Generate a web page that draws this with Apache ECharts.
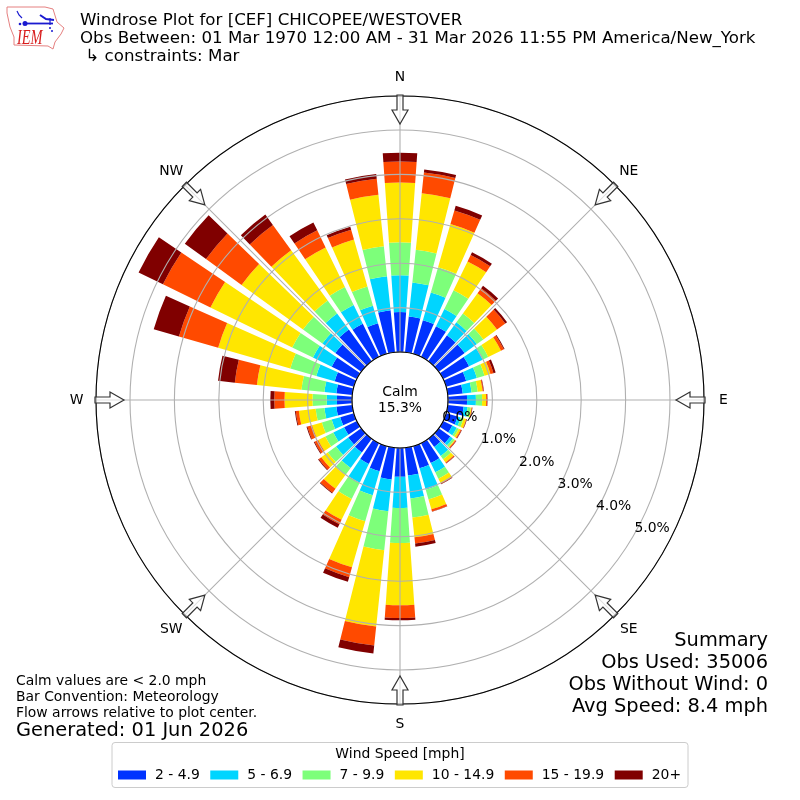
<!DOCTYPE html>
<html><head><meta charset="utf-8">
<style>html,body{margin:0;padding:0;background:#fff}#c{width:800px;height:800px}</style>
<script src="https://cdn.jsdelivr.net/npm/echarts@6/dist/echarts.min.js"></script>
</head><body><div id="c"></div>
<script>
const directions = Array.from({length:36},(_, i)=>String(i*10));
const speed2 = [.90,.81,.79,.77,.72,.72,.65,.47,.34,.43,.36,.27,.23,.32,.23,.50,.52,.63,.65,.72,.59,.52,.38,.36,.32,.32,.36,.34,.36,.45,.63,.72,.88,.83,.72,.95];
const speed5 = [.83,.77,.65,.43,.36,.34,.34,.25,.20,.20,.09,.07,.11,.07,.25,.23,.50,.52,.70,.72,.56,.47,.43,.34,.27,.20,.27,.23,.27,.43,.47,.36,.45,.47,.41,.77];
const speed7 = [.74,.74,.59,.47,.25,.18,.14,.18,.14,.14,.07,.07,.05,.05,.09,.16,.23,.43,.79,.88,.61,.41,.20,.23,.20,.23,.20,.32,.52,.61,.52,.54,.36,.45,.45,.68];
const speed10 = [1.35,1.28,1.01,.72,.56,.38,.32,.14,.11,.09,.02,.06,.05,.02,.09,.11,.23,.45,1.40,1.73,1.08,.52,.38,.18,.18,.23,.38,.63,1.01,1.69,2.05,1.71,1.40,.99,1.10,1.17];
const speed15 = [.47,.47,.32,.16,.14,.23,.07,.07,.02,.02,.01,.01,.02,.02,.02,.02,.05,.14,.29,.43,.23,.11,.11,.07,.09,.11,.07,.23,.50,.92,1.19,.99,.70,.43,.23,.36];
const speed20 = [.20,.07,.11,.07,.07,.05,.02,.05,.01,.01,.01,.01,.01,.01,.01,.01,.01,.07,.05,.18,.11,.09,.02,.02,.02,.02,.02,.09,.38,.59,.61,.59,.29,.20,.07,.11];
const speedNames = ['2 - 4.9','5 - 6.9','7 - 9.9','10 - 14.9','15 - 19.9','20+'];
const speedColors = ['#0033ff','#00d5ff','#7dff7a','#ffe600','#ff4a00','#800000'];
const compass = {0:'N',45:'NE',90:'E',135:'SE',180:'S',225:'SW',270:'W',315:'NW'};
const titleLines = 'Windrose Plot for [CEF] CHICOPEE/WESTOVER\nObs Between: 01 Mar 1970 12:00 AM - 31 Mar 2026 11:55 PM America/New_York\n \u21B3 constraints: Mar';
const rMax = 5.766;
const FF = '"DejaVu Sans"';
const C = 400;

const chart = echarts.init(document.getElementById('c'), null, {renderer:'canvas'});
const gfx = [];
function txt(x,y,t,size,align){gfx.push({type:'text',z:50,x,y,silent:true,style:{text:t,font:size+'px '+FF,fill:'#000',textAlign:align||'left',textVerticalAlign:'middle'}});}
// notes
txt(16,681,'Calm values are < 2.0 mph',13.9);
txt(16,697,'Bar Convention: Meteorology',13.9);
txt(16,713,'Flow arrows relative to plot center.',13.9);
txt(16,731,'Generated: 01 Jun 2026',19.4);
txt(768,641,'Summary',19.4,'right');
txt(768,663,'Obs Used: 35006',19.4,'right');
txt(768,685,'Obs Without Wind: 0',19.4,'right');
txt(768,707,'Avg Speed: 8.4 mph',19.4,'right');
txt(400,392,'Calm',13.9,'center');
txt(400,408,'15.3%',13.9,'center');
// legend box
gfx.push({type:'rect',z:1,silent:true,shape:{x:112,y:742.5,width:576,height:45,r:3},style:{fill:'#fff',stroke:'#ccc',lineWidth:1}});
txt(400,754,'Wind Speed [mph]',13.9,'center');
// compass labels and arrows
Object.keys(compass).forEach(k=>{
  const a = k*Math.PI/180;
  txt(C+323.5*Math.sin(a),C-323.5*Math.cos(a)+0.5,compass[k],13.9,'center');
  gfx.push({type:'polygon',z:40,silent:true,x:C,y:C,rotation:-a,
    shape:{points:[[0,-276],[8,-290],[3,-290],[3,-305],[-3,-305],[-3,-290],[-8,-290]]},
    style:{fill:'rgba(255,255,255,0.6)',stroke:'#333',lineWidth:1.2}});
});
// logo
gfx.push({type:'polygon',z:30,silent:true,shape:{points:[[7,7],[45,7],[53,9],[57,22],[64,28],[61,34],[55,42],[53,49],[48,46],[14,45],[14,37],[10,27],[7,13]]},style:{fill:'#fff',stroke:'#e58080',lineWidth:1}});
[[[25,23.5],[53,23.5]],[[50,18],[50,25]],[[40,15],[46,19],[54,20]],[[17,11],[19,15],[22,18]]].forEach((p,i)=>gfx.push({type:'polyline',z:31,silent:true,shape:{points:p},style:{stroke:'#1a1ad0',lineWidth:i==0?1.8:(i==2?2:1.2),fill:null}}));
gfx.push({type:'circle',z:31,silent:true,shape:{cx:25,cy:23.5,r:2.5},style:{fill:'#1a1ad0'}});
gfx.push({type:'circle',z:31,silent:true,shape:{cx:20,cy:24,r:1.3},style:{fill:'#1a1ad0'}});
gfx.push({type:'circle',z:31,silent:true,shape:{cx:50,cy:28,r:1},style:{fill:'#1a1ad0'}});
gfx.push({type:'circle',z:31,silent:true,shape:{cx:52,cy:31,r:1},style:{fill:'#1a1ad0'}});
gfx.push({type:'text',z:31,silent:true,x:17,y:39,scaleX:0.72,style:{text:'IEM',font:'italic 20px "Liberation Serif"',fill:'#d81e1e',textAlign:'left',textVerticalAlign:'middle'}});

const seriesData = [speed2,speed5,speed7,speed10,speed15,speed20];
const option = {
  animation:false,
  backgroundColor:'#fff',
  title:{text:titleLines,left:80,top:12,padding:0,textStyle:{fontFamily:FF,fontSize:16.67,fontWeight:'normal',lineHeight:18,color:'#000'}},
  legend:{left:118,top:768,itemWidth:28,itemHeight:9,itemGap:10.5,icon:'rect',padding:0,selectedMode:false,z:20,
    data:speedNames,textStyle:{fontFamily:FF,fontSize:13.9,color:'#000',padding:[0,0,0,4]}},
  polar:[
    {center:[C,C],radius:[48,304]},
    {center:[C,C],radius:[48,304]},
    {center:[C+7,C-13],radius:[61,317]}
  ],
  angleAxis:[
    {polarIndex:0,type:'category',data:directions,startAngle:95,clockwise:true,boundaryGap:true,
      axisLine:{show:false},axisTick:{show:false},axisLabel:{show:false},splitLine:{show:false}},
    {polarIndex:1,type:'value',min:0,max:360,interval:45,startAngle:90,clockwise:true,z:10,
      axisLine:{show:true,lineStyle:{color:'#000',width:1.1}},axisTick:{show:false},
      axisLabel:{show:false},
      splitLine:{show:true,lineStyle:{color:'#b0b0b0',width:1.1,type:'solid'}}},
    {polarIndex:2,type:'value',min:0,max:360,startAngle:-30,clockwise:true,show:false}
  ],
  radiusAxis:[
    {polarIndex:0,type:'value',min:0,max:rMax,axisLine:{show:false},axisTick:{show:false},axisLabel:{show:false},splitLine:{show:false}},
    {polarIndex:1,type:'value',min:0,max:rMax,interval:1,z:10,axisLine:{show:false},axisTick:{show:false},axisLabel:{show:false},
      splitLine:{show:true,lineStyle:{color:'#b0b0b0',width:1.1,type:'solid'}}},
    {polarIndex:2,type:'value',min:0,max:rMax,interval:1,z:20,axisLine:{show:false},axisTick:{show:false},splitLine:{show:false},
      axisLabel:{show:true,margin:0,align:'center',verticalAlign:'middle',rotate:0,fontFamily:FF,fontSize:13.9,color:'#000',
        formatter:v=>Number.isInteger(v)?v.toFixed(1)+'%':''}}
  ],
  series:speedNames.map((n,i)=>({name:n,type:'bar',coordinateSystem:'polar',polarIndex:0,stack:'wind',barWidth:'80%',silent:true,
    data:seriesData[i],itemStyle:{color:speedColors[i]}})),
  graphic:{elements:gfx}
};
chart.setOption(option);
</script></body></html>
